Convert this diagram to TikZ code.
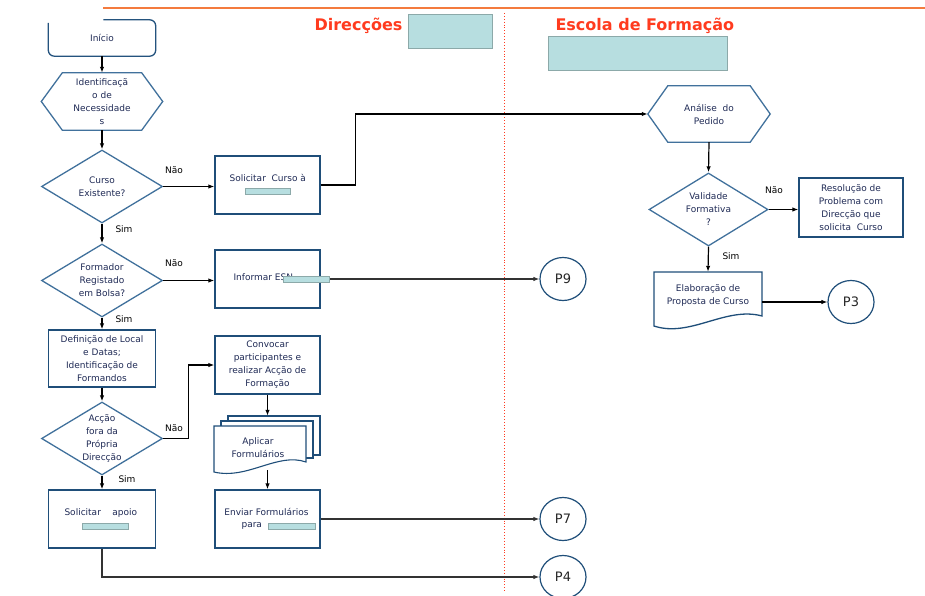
\documentclass[tikz,border=0pt]{standalone}
\usepackage{fontspec}
\setmainfont{DejaVu Sans}
\usetikzlibrary{shapes.geometric,arrows.meta}

\definecolor{navy}{HTML}{1F4E79}
\definecolor{steel}{HTML}{41719C}
\definecolor{paneltint}{HTML}{B7DEE0}
\definecolor{paneledge}{HTML}{8CA9A9}
\definecolor{headred}{HTML}{FF3B1F}
\definecolor{rulecol}{HTML}{F47B3E}
\definecolor{ink}{HTML}{1F2A55}

\tikzset{
  small/.style={font=\fontsize{9}{13}\selectfont, text=ink, align=center},
  stepbox/.style={small, draw=navy, line width=1.3pt, minimum width=105pt, minimum height=58pt, inner sep=1pt},
  frame/.style={small, minimum width=105pt, minimum height=58pt, inner sep=1pt},
  outline/.style={draw=navy, line width=1.3pt},
  hexline/.style={draw=steel, line width=1.3pt},
  decision/.style={diamond, draw=steel, line width=1.3pt, minimum width=121pt, minimum height=73pt, aspect=1.66, inner sep=0pt},
  inside/.style={label={[small]center:{#1}}},
  connector/.style={ellipse, draw=navy, line width=1.2pt, minimum width=46pt, minimum height=43pt, font=\fontsize{13}{15}\selectfont, text=black!85},
  tint/.style={fill=paneltint, draw=paneledge, line width=0.8pt, inner sep=0pt},
  flow/.style={-{Latex[length=6pt,width=4.5pt]}, line width=1.2pt, black},
  longflow/.style={flow, draw=black!80, line width=1.4pt},
  answer/.style={font=\fontsize{9}{10}\selectfont, text=black},
  heading/.style={font=\fontsize{16}{18}\selectfont\bfseries, text=headred, anchor=base west},
}

\begin{document}
\begin{tikzpicture}[x=1pt,y=-1pt]
\useasboundingbox (0,0) rectangle (925,596);

% header rule and lane divider
\draw[rulecol, line width=2pt] (103,8) -- (925,8);
\draw[headred, line width=0.9pt, dotted] (504,13) -- (504,592);

% lane headings
\node[heading] (dirhead) at (311,31) {Direcções};
\node[tint, minimum width=84pt, minimum height=34pt] (dirbox) at (450,31) {};
\node[heading] (eschead) at (552,31) {Escola de Formação};
\node[tint, minimum width=179pt, minimum height=34pt] (escbox) at (637.5,53) {};

% ---------- Direcções lane ----------
\node[small, minimum width=107pt, minimum height=36pt] (inicio) at (102,38) {Início};
\draw[draw=navy!85!steel, line width=1.3pt, rounded corners=6pt]
  ([yshift=-3pt]inicio.north west) -- (inicio.south west) -- (inicio.south east)
  -- (inicio.north east) -- ([xshift=55pt]inicio.north west);

\node[small, minimum width=121pt, minimum height=57pt, inner sep=0pt] (ident) at (102,101.5)
  {Identificaçã\\o de\\Necessidade\\s};
\draw[hexline] (ident.west) -- ([xshift=21pt]ident.north west) -- ([xshift=-21pt]ident.north east)
  -- (ident.east) -- ([xshift=-21pt]ident.south east) -- ([xshift=21pt]ident.south west) -- cycle;

\node[decision, inside={Curso\\Existente?}] (curso) at (102,186.5) {};
\node[decision, inside={Formador\\Registado\\em Bolsa?}] (formador) at (102,280.5) {};
\node[stepbox, minimum width=107pt, minimum height=57pt] (definicao) at (102,358.5)
  {Definição de Local\\e Datas;\\Identificação de\\Formandos};
\node[decision, inside={Acção\\fora da\\Própria\\Direcção}] (accao) at (102,438.5) {};
\node[stepbox, minimum width=107pt, minimum height=58pt] (apoio) at (102,519) {};
\node[small, anchor=west] (apoiotext) at (61,513) {Solicitar\ \ \ \ apoio};
\node[tint, minimum width=46pt, minimum height=6pt] (apoiotint) at (105,526) {};

\node[stepbox] (solcurso) at (267.5,185) {};
\node[small, anchor=west] (solcursotext) at (226,178) {Solicitar\ \ Curso à};
\node[tint, minimum width=45pt, minimum height=6pt] (solcursotint) at (268,191) {};

\node[stepbox] (informar) at (267.5,279) {};
\node[small, anchor=west] (informartext) at (230,277) {Informar ESN};

\node[stepbox] (convocar) at (267.5,365)
  {Convocar\\participantes e\\realizar Acção de\\Formação};

\node[frame, minimum height=56pt] (aplicar) at (267.5,444) {};
\begin{scope}[shift={(aplicar.center)}]
  \draw[outline, fill=white, line width=1.1pt] (-39.5,-28) -- (52.5,-28) -- (52.5,11) -- (-39.5,11) -- cycle;
  \draw[outline, fill=white, line width=1.1pt] (-46.5,-23) -- (45.5,-23) -- (45.5,14) -- (-46.5,14) -- cycle;
  \draw[outline, fill=white, line width=1.1pt] (-53.5,-18) -- (38.5,-18) -- (38.5,18)
    .. controls (10,8) and (-20,36) .. (-53.5,28) -- cycle;
  \node[small] (aplicartext) at (-9.5,4) {Aplicar\\Formulários};
\end{scope}

\node[stepbox, minimum height=58pt] (enviar) at (267.5,519) {};
\node[small] (enviartext) at (266.5,512) {Enviar Formulários};
\node[small, anchor=west] (paratext) at (238,526) {para};
\node[tint, minimum width=47pt, minimum height=6pt] (enviartint) at (291.5,526) {};

\node[connector] (p9) at (563,279) {P9};
\node[connector] (p7) at (563,519) {P7};
\node[connector] (p4) at (563,577) {P4};

% ---------- Escola de Formação lane ----------
\node[small, minimum width=122pt, minimum height=56pt, inner sep=0pt] (analise) at (709,114)
  {Análise\ \ do\\Pedido};
\draw[hexline] (analise.west) -- ([xshift=20pt]analise.north west) -- ([xshift=-20pt]analise.north east)
  -- (analise.east) -- ([xshift=-20pt]analise.south east) -- ([xshift=20pt]analise.south west) -- cycle;

\node[decision, minimum width=119pt, inside={Validade\\Formativa\\?}] (validade) at (708.5,209.5) {};
\node[stepbox, minimum width=104pt, minimum height=59pt] (resolucao) at (851,207.5)
  {Resolução de\\Problema com\\Direcção que\\solicita\ \ Curso};

\node[frame, minimum width=108pt] (elab) at (708,301) {};
\begin{scope}[shift={(elab.center)}]
  \draw[outline] (-54,-29) -- (54,-29) -- (54,15)
    .. controls (18,5) and (-18,37) .. (-54,25) -- cycle;
  \node[small] (elabtext) at (0,-6) {Elaboração de\\Proposta de Curso};
\end{scope}
\node[connector] (p3) at (851,302) {P3};

% ---------- connectors ----------
\draw[flow] (inicio.south) -- (ident.north);
\draw[flow] (ident.south) -- (curso.north);
\draw[flow] (curso.east) -- (curso.east -| solcurso.west);
\draw[flow] (curso.south) -- (formador.north);
\draw[flow] (formador.east) -- (formador.east -| informar.west);
\draw[flow] (formador.south) -- (definicao.north);
\draw[flow] (definicao.south) -- (accao.north);
\draw[flow] (accao.east) -- ++(25,0) |- (convocar.west);
\draw[flow] (accao.south) -- (apoio.north);
\draw[flow] (convocar.south) -- (aplicar.north);
\draw[flow] ([yshift=2pt]aplicar.south) -- (enviar.north);
\draw[flow] (solcurso.east) -- ++(35,0) |- (analise.west);
\draw[longflow] (informar.east) -- (p9.west);
\node[tint, minimum width=46pt, minimum height=6pt] (informartint) at (306,279.5) {};
\draw[longflow] (enviar.east) -- (p7.west);
\draw[longflow] (apoio.south) |- (p4.west);

\draw[flow] (analise.south) -- (validade.north);
\draw[flow] (validade.east) -- (validade.east -| resolucao.west);
\draw[flow] (validade.south) -- (elab.north);
\draw[flow] (elab.east |- p3.west) -- (p3.west);

% branch answers
\node[answer] (nao1) at (174,170) {Não};
\node[answer] (sim1) at (124,229) {Sim};
\node[answer] (nao2) at (174,263) {Não};
\node[answer] (sim2) at (124,319) {Sim};
\node[answer] (nao3) at (174,428) {Não};
\node[answer] (sim3) at (127,479) {Sim};
\node[answer] (nao4) at (774,190) {Não};
\node[answer] (sim4) at (731,256) {Sim};
\end{tikzpicture}
\end{document}
